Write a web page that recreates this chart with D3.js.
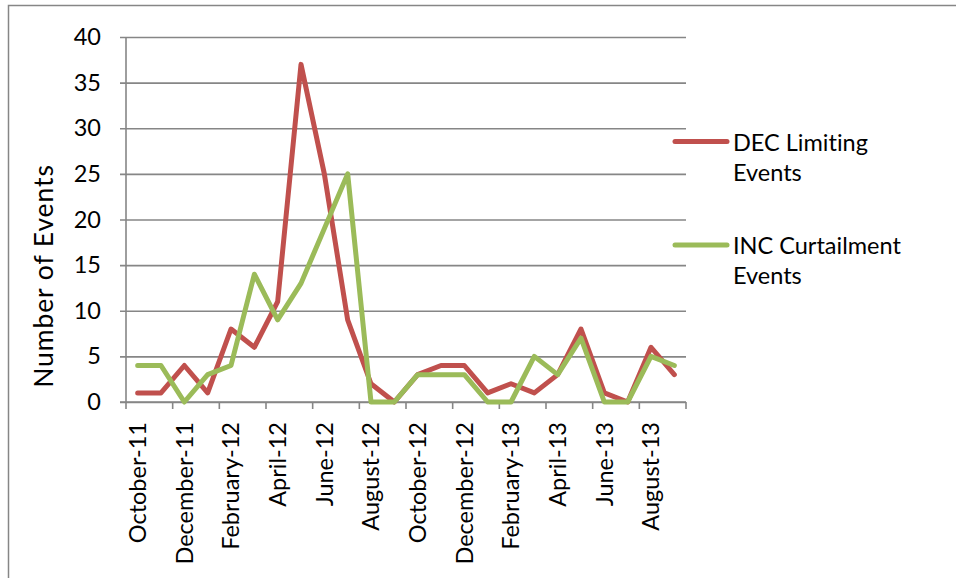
<!DOCTYPE html>
<html>
<head>
<meta charset="utf-8">
<script src="https://cdn.jsdelivr.net/npm/d3@7/dist/d3.min.js"></script>
<style>
  html, body { margin: 0; padding: 0; background: #fff; }
  svg { display: block; }
  text { font-family: Lato, "Open Sans", sans-serif; fill: #000; font-variant-ligatures: none; font-feature-settings: "liga" 0, "clig" 0; }
</style>
</head>
<body>
<svg id="chart" width="956" height="578"></svg>
<script>
// Monthly event counts, October 2011 – September 2013
const months = [
  "October-11", "November-11", "December-11", "January-12", "February-12", "March-12",
  "April-12", "May-12", "June-12", "July-12", "August-12", "September-12",
  "October-12", "November-12", "December-12", "January-13", "February-13", "March-13",
  "April-13", "May-13", "June-13", "July-13", "August-13", "September-13"
];
const decLimiting = [1, 1, 4, 1, 8, 6, 11, 37, 25, 9, 2, 0, 3, 4, 4, 1, 2, 1, 3, 8, 1, 0, 6, 3];
const incCurtailment = [4, 4, 0, 3, 4, 14, 9, 13, 19, 25, 0, 0, 3, 3, 3, 0, 0, 5, 3, 7, 0, 0, 5, 4];
const seriesNames = ["DEC Limiting|Events", "INC Curtailment|Events"];
const seriesColors = ["#C0504D", "#9BBB59"];
const yTicks = [0, 5, 10, 15, 20, 25, 30, 35, 40];
const yTitle = "Number of Events";

const svg = d3.select("#chart");
const plot = { left: 126, right: 686, top: 37, bottom: 402 };
const grid = "#868686";

// outer chart frame
svg.append("rect")
  .attr("x", 8.5).attr("y", 5.5)
  .attr("width", 1000).attr("height", 1000)
  .attr("fill", "none").attr("stroke", grid).attr("stroke-width", 1.5);

const x = d3.scaleBand().domain(months).range([plot.left, plot.right]).paddingInner(0).paddingOuter(0);
const y = d3.scaleLinear().domain([0, 40]).range([plot.bottom, plot.top]);
const cx = d => x(d) + x.bandwidth() / 2;

// horizontal gridlines with left ticks and labels
const yAxis = d3.axisLeft(y).tickValues(yTicks).tickSize(-(plot.right - plot.left) - 6).tickSizeOuter(0);
const gy = svg.append("g").attr("transform", `translate(${plot.left - 6},0)`).call(yAxis);
gy.select(".domain").remove();
gy.selectAll(".tick line").attr("stroke", grid).attr("stroke-width", 1.6);
gy.selectAll(".tick text").attr("x", -19).style("font-size", "23.5px").attr("fill", "#000");

// vertical axis line
svg.append("line")
  .attr("x1", plot.left).attr("x2", plot.left)
  .attr("y1", plot.top).attr("y2", plot.bottom)
  .attr("stroke", grid).attr("stroke-width", 1.6);

// category axis: ticks between every second month, labels on every second month
const xAxisLine = svg.append("g");
xAxisLine.append("line")
  .attr("x1", plot.left - 6).attr("x2", plot.right)
  .attr("y1", plot.bottom).attr("y2", plot.bottom)
  .attr("stroke", grid).attr("stroke-width", 1.6);
const boundaries = months.filter((d, i) => i % 2 === 0).map(d => x(d)).concat([plot.right]);
xAxisLine.selectAll("line.tk").data(boundaries).join("line")
  .attr("class", "tk")
  .attr("x1", d => d).attr("x2", d => d)
  .attr("y1", plot.bottom).attr("y2", plot.bottom + 7)
  .attr("stroke", grid).attr("stroke-width", 1.6);
xAxisLine.selectAll("text").data(months.filter((d, i) => i % 2 === 0)).join("text")
  .attr("transform", d => `translate(${cx(d)},${plot.bottom + 20}) rotate(-90)`)
  .attr("text-anchor", "end")
  .attr("dy", "0.36em")
  .style("font-size", "23.5px")
  .text(d => d);

// axis title
svg.append("text")
  .attr("transform", `translate(53,276) rotate(-90)`)
  .attr("text-anchor", "middle")
  .style("font-size", "26.5px")
  .style("letter-spacing", "0.9px")
  .text(yTitle);

// series lines
const line = d3.line().x((d, i) => cx(months[i])).y(d => y(d));
[decLimiting, incCurtailment].forEach((vals, k) => {
  svg.append("path")
    .datum(vals)
    .attr("d", line)
    .attr("fill", "none")
    .attr("stroke", seriesColors[k])
    .attr("stroke-width", 5)
    .attr("stroke-linejoin", "round")
    .attr("stroke-linecap", "round");
});

// legend
const legendY = [141.5, 245];
seriesNames.forEach((name, k) => {
  const g = svg.append("g").attr("transform", `translate(0,${legendY[k]})`);
  g.append("line")
    .attr("x1", 675).attr("x2", 727)
    .attr("stroke", seriesColors[k]).attr("stroke-width", 5)
    .attr("stroke-linecap", "round");
  const t = g.append("text").attr("x", 733).attr("y", 9).style("font-size", "23.5px");
  name.split("|").forEach((part, j) => {
    t.append("tspan").attr("x", 733).attr("dy", j === 0 ? 0 : 30).text(part);
  });
});
</script>
</body>
</html>
